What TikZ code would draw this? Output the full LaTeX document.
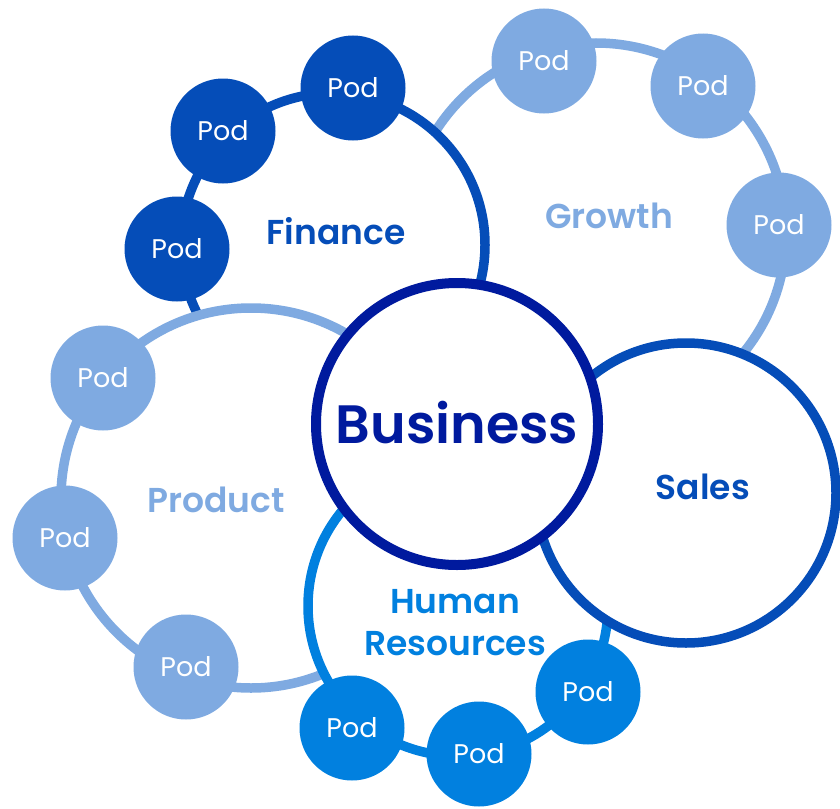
\documentclass[tikz,border=0pt]{standalone}
\usepackage{fontspec}
\setmainfont{Poppins}
\newfontfamily\semibold{Poppins SemiBold}
\usetikzlibrary{positioning}
\definecolor{navy}{HTML}{001A9E}
\definecolor{deepblue}{HTML}{054DB8}
\definecolor{midblue}{HTML}{0180DF}
\definecolor{lightblue}{HTML}{7FAAE1}

\begin{document}
\begin{tikzpicture}[x=1pt,y=-1pt]
    \tikzstyle{dept} = [circle, draw, fill=white, line width=9.5pt, inner sep=0pt]
    \tikzstyle{hub} = [dept, draw=navy, text=navy, line width=10pt, minimum size=282pt,
               font=\semibold\fontsize{54}{60}\selectfont]
    \tikzstyle{pod} = [circle, minimum size=105pt, inner sep=0pt, text=white,
               font=\fontsize{27}{30}\selectfont]
    \tikzstyle{deptlabel} = [font=\semibold\fontsize{34.5}{42}\selectfont, align=center]

    \useasboundingbox (0,0) rectangle (840,808);

    % Department rings, back to front
    \node[dept, draw=lightblue, minimum size=380pt] (growth) at (596,233) {};
    \node[dept, draw=deepblue, minimum size=304pt] (finance) at (333,245) {};
    \node[dept, draw=lightblue, minimum size=380pt] (product) at (251,498) {};
    \node[dept, draw=midblue, minimum size=300pt] (hr) at (458,606) {};
    \node[dept, draw=deepblue, minimum size=300pt] (sales) at (686,493) {};

    % Centre
    \node[hub] (business) at (457,424) {\raisebox{3pt}{Business}};

    % Department names
    \node[deptlabel, text=deepblue] (financename) at (336,231) {Finance};
    \node[deptlabel, text=lightblue] (growthname) at (609,216) {Growth};
    \node[deptlabel, text=lightblue] (productname) at (216,500) {Product};
    \node[deptlabel, text=deepblue] (salesname) at (703,487) {Sales};
    \node[deptlabel, text=midblue] (hrname) at (455,623) {Human\\Resources};

    % Pods
    \node[pod, fill=deepblue] (finance-1) at (353,88) {Pod};
    \node[pod, fill=deepblue] (finance-2) at (223,131) {Pod};
    \node[pod, fill=deepblue] (finance-3) at (177,249) {Pod};

    \node[pod, fill=lightblue] (growth-1) at (544,61) {Pod};
    \node[pod, fill=lightblue] (growth-2) at (703,86) {Pod};
    \node[pod, fill=lightblue] (growth-3) at (779,225) {Pod};

    \node[pod, fill=lightblue] (product-1) at (103,378) {Pod};
    \node[pod, fill=lightblue] (product-2) at (65,538) {Pod};
    \node[pod, fill=lightblue] (product-3) at (186,667) {Pod};

    \node[pod, fill=midblue] (hr-1) at (352,728) {Pod};
    \node[pod, fill=midblue] (hr-2) at (479,754) {Pod};
    \node[pod, fill=midblue] (hr-3) at (588,692) {Pod};

\end{tikzpicture}
\end{document}
